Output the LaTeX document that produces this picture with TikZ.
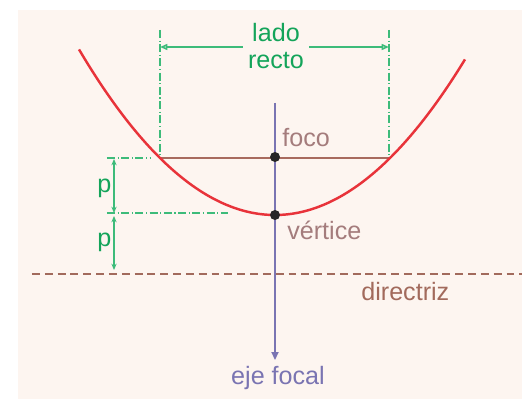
\documentclass[tikz,border=0pt]{standalone}
\usepackage{fontspec}
\setmainfont{Liberation Sans}
\usetikzlibrary{arrows.meta,positioning}
\definecolor{bgpeach}{HTML}{FDF5F0}
\definecolor{parred}{HTML}{E8333A}
\definecolor{latbrown}{HTML}{A86A5E}
\definecolor{axviolet}{HTML}{7A74B2}
\definecolor{lblgreen}{HTML}{14A45A}
\definecolor{dimgreen}{HTML}{3DBB7A}
\definecolor{txtmauve}{HTML}{A47C7C}
\definecolor{txtbrown}{HTML}{A26A5C}
\tikzset{
  dot/.style={circle, fill=black!85, inner sep=0pt, minimum size=0.2cm},
  lbl/.style={inner sep=0pt, font=\fontsize{14.3pt}{15.3pt}\selectfont},
  dimline/.style={dimgreen, line width=0.6pt, dash pattern=on 4.5pt off 1.5pt on 0.6pt off 1.5pt},
  dimarr/.style={{Stealth[length=3.6pt,width=3pt]}-{Stealth[length=3.6pt,width=3pt]}, dimgreen, line width=0.7pt},
  lrarr/.style={-{Triangle[open,length=4.2pt,width=3.4pt]}, dimgreen, line width=0.9pt},
}
\begin{document}
\begin{tikzpicture}[x=0.02cm, y=-0.02cm]
\useasboundingbox (0,0) rectangle (522,399);
\fill[bgpeach] (18,10) rectangle (522,399);
% puntos de referencia
\coordinate (latL) at (160,158);
\coordinate (latR) at (389,158);
\coordinate (axTop) at (275,103);
\coordinate (axEnd) at (275,360);
\coordinate (dirL) at (32,274);
\coordinate (dirR) at (522,274);
\coordinate (lrTopL) at (160,30);
\coordinate (lrTopR) at (389,30);
\coordinate (lrArrL) at (160,47);
\coordinate (lrArrR) at (389,47);
\coordinate (pTopL) at (107,158);
\coordinate (pTopR) at (150,158);
\coordinate (pMidL) at (107,213);
\coordinate (pMidR) at (228,213);
\coordinate (pA) at (114,159);
\coordinate (pB) at (114,213);
\coordinate (pC) at (114,216);
\coordinate (pD) at (114,270);
% lado recto, eje, directriz
\draw[latbrown, line width=0.9pt] (latL) -- (latR);
\draw[-{Triangle[length=4.5pt,width=4pt]}, axviolet, line width=0.9pt] (axTop) -- (axEnd);
\draw[txtbrown, line width=0.9pt, dash pattern=on 4.5pt off 2.8pt] (dirL) -- (dirR);
\draw[dimline] (lrTopL) -- (latL);
\draw[dimline] (lrTopR) -- (latR);
\draw[dimline] (pTopL) -- (pTopR);
\draw[dimline] (pMidL) -- (pMidR);
\draw[dimarr] (pA) -- (pB);
\draw[dimarr] (pC) -- (pD);
% parabola
\draw[parred, line width=1.4pt] plot[domain=-1.96:1.90, samples=80, smooth] ({275+100*\x},{215-100*\x*\x/2.32});
\node[dot] (foco) at (275,157) {};
\node[dot] (vert) at (275,215) {};
% textos
\node[lbl, lblgreen, align=center, inner sep=2.8pt] (lado) at (276,46) {lado\\recto};
\draw[lrarr] (lado.west |- lrArrL) -- (lrArrL);
\draw[lrarr] (lado.east |- lrArrR) -- (lrArrR);
\node[lbl, txtmauve, anchor=base west] (focoTxt) at (282,147) {foco};
\node[lbl, txtmauve, anchor=base west] (vertTxt) at (287,239) {vértice};
\node[lbl, txtbrown, anchor=base west] (dirTxt) at (361,300) {directriz};
\node[lbl, axviolet, anchor=base] (ejeTxt) at (278,385) {eje focal};
\node[lbl, lblgreen, anchor=base west] (p1) at (97,193) {p};
\node[lbl, lblgreen, anchor=base west] (p2) at (97,247) {p};
\end{tikzpicture}
\end{document}
